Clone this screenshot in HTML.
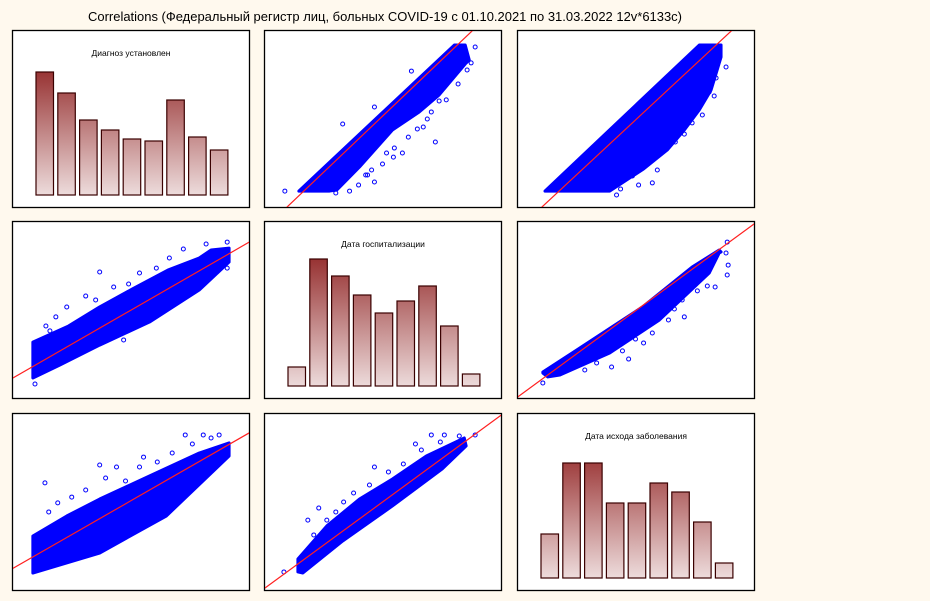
<!DOCTYPE html>
<html><head><meta charset="utf-8">
<style>
html,body{margin:0;padding:0;background:#fff9ee;}
svg{display:block;font-family:"Liberation Sans",sans-serif;}
</style></head>
<body>
<svg id="chart" width="930" height="601" viewBox="0 0 930 601" xmlns="http://www.w3.org/2000/svg">
<defs>
<linearGradient id="g1" gradientUnits="userSpaceOnUse" x1="0" y1="72" x2="0" y2="195"><stop offset="0" stop-color="#983434"/><stop offset="1" stop-color="#eddcdc"/></linearGradient>
<linearGradient id="g5" gradientUnits="userSpaceOnUse" x1="0" y1="260" x2="0" y2="387"><stop offset="0" stop-color="#983434"/><stop offset="1" stop-color="#eddcdc"/></linearGradient>
<linearGradient id="g9" gradientUnits="userSpaceOnUse" x1="0" y1="463" x2="0" y2="578"><stop offset="0" stop-color="#a04040"/><stop offset="1" stop-color="#eddcdc"/></linearGradient>
</defs>
<text x="385" y="21" font-size="13" text-anchor="middle" textLength="594" lengthAdjust="spacingAndGlyphs" fill="#000">Correlations (Федеральный регистр лиц, больных COVID-19 с 01.10.2021 по 31.03.2022 12v*6133c)</text>
</svg>
<script>
// Histogram data (counts, relative)
const hist1Values = [123,102,75,65,56,54,95,58,45];
const hist2Values = [19,127,110,91,73,85,100,60,12];
const hist3Values = [44,115,115,75,75,95,86,56,15];
const histTitles = ["Диагноз установлен","Дата госпитализации","Дата исхода заболевания"];

// Scatter panels: band outline (x%, y%), regression line (intercept, slope), outliers
const s2BandX = [14.7,80.3,84.9,86.6,84.9,73.9,65.5,54.2,40.3,30.7,27.7];
const s2BandY = [9.0,91.5,91.5,83.1,80.8,63.3,53.7,43.5,22.6,9.6,9.0];
const s2Line = [-12.4,1.274];
const s2OutX = [8.8,72.3,58.4,73.9,78.2,89.1,87.4,46.6,43.7,33.2,62.2,46.6,51.7,70.6,60.9,36.1,39.9,42.9,50.0,55.0,64.7,68.9,76.9,81.9,85.7,30.3,26.9,54.6,45.4,67.2];
const s2OutY = [9.0,36.7,30.5,59.9,72.9,90.4,81.4,14.1,18.1,46.9,76.8,56.5,30.5,53.7,39.5,9.0,12.4,18.1,24.3,33.3,44.1,49.7,60.5,69.5,77.4,7.9,12.4,28.2,20.9,45.2];

const s3BandX = [11.8,76.9,86.1,86.1,81.9,76.9,70.6,63.4,53.4,39.1,11.8];
const s3BandY = [9.0,91.5,91.5,84.7,66.1,54.8,43.5,32.2,21.5,9.0,9.0];
const s3Line = [-13.1,1.245];
const s3OutX = [57.1,66.8,52.5,75.6,84.0,84.9,84.5,45.4,39.5,66.4,60.1,81.1,43.7,48.7,55.0,62.2,70.6,78.2,83.2,88.2,42.0,51.3,59.2,73.9];
const s3OutY = [13.6,36.7,30.5,55.4,72.9,90.4,80.8,18.6,13.6,43.5,39.5,65.0,10.2,17.5,24.3,32.8,41.2,52.0,62.7,79.1,6.8,12.4,20.9,47.5];

const s4BandX = [8.8,23.9,36.9,50.8,65.8,79.0,84.0,91.6,91.6,79.0,58.0,37.0,20.2,8.8];
const s4BandY = [31.6,40.7,51.4,61.6,72.3,79.1,83.6,84.7,76.8,61.0,42.9,29.9,18.6,11.3];
const s4Line = [11.0,0.77];
const s4OutX = [9.7,37.0,31.1,47.1,39.5,81.9,90.8,90.8,77.3,18.5,16.0,60.9,57.1,28.2,23.1,42.9,53.8,66.4,72.3,14.3,35.3,49.2];
const s4OutY = [7.9,71.2,57.6,32.8,32.8,87.0,88.1,73.4,61.6,45.8,37.9,73.4,46.3,24.9,51.4,62.7,70.6,79.1,84.2,40.7,55.4,64.4];

const s6BandX = [10.9,25.2,52.9,73.9,85.3,86.1,85.3,81.1,60.1,39.1,18.1,13.0,10.9];
const s6BandY = [14.7,27.1,51.4,74.0,83.6,82.5,81.9,70.6,44.1,25.4,13.0,11.9,14.1];
const s6Line = [0.3,0.98];
const s6OutX = [10.9,39.9,47.1,70.6,83.6,88.7,89.1,88.2,88.7,80.3,69.7,50.0,33.6,44.5,57.1,63.9,76.1,28.6,53.4,66.4];
const s6OutY = [8.5,17.5,22.0,45.8,62.7,69.5,75.1,81.9,88.1,63.3,55.4,33.3,19.8,26.6,36.7,44.1,60.5,15.8,31.1,50.3];

const s7BandX = [8.8,23.1,37.0,58.0,79.0,91.6,91.6,65.1,37.0,8.8];
const s7BandY = [30.5,41.8,51.4,64.4,77.4,83.1,75.7,41.8,20.9,9.6];
const s7Line = [11.9,0.768];
const s7OutX = [13.9,37.0,44.1,55.5,73.1,80.7,87.4,31.1,19.3,53.8,39.5,67.6,25.2,47.9,61.3,76.1,84.0,15.5];
const s7OutY = [60.5,70.6,69.5,75.1,87.6,87.6,87.6,56.5,49.2,69.5,63.3,77.4,52.5,61.6,72.3,82.5,85.9,44.1];

const s8BandX = [14.3,26.5,40.3,54.2,68.5,84.5,85.3,75.2,54.2,33.2,16.4,14.3];
const s8BandY = [17.5,36.2,51.4,62.7,75.7,85.9,81.4,68.4,47.5,27.7,9.6,10.2];
const s8Line = [0.7,0.98];
const s8OutX = [8.4,18.5,23.1,46.6,63.9,70.6,76.1,82.4,89.1,33.6,52.5,26.5,37.8,44.5,58.8,66.4,74.4,21.0,30.3];
const s8OutY = [10.2,39.5,46.3,69.5,82.5,87.6,87.6,87.0,87.6,49.7,66.7,39.5,54.8,59.3,71.2,79.1,83.6,31.1,44.1];

const NS = "http://www.w3.org/2000/svg";
const svg = document.getElementById("chart");
const colX = [12,264,517], rowY = [30,221,413], PW = 237, PH = 177;

function mk(tag, attrs, parent){
  const e = document.createElementNS(NS, tag);
  for (const k in attrs) e.setAttribute(k, attrs[k]);
  (parent||svg).appendChild(e);
  return e;
}

function panel(r,c,name){
  const g = mk("g",{});
  
  
  const rect = mk("rect",{x:colX[c]+0.5,y:rowY[r]+0.5,width:PW,height:PH,fill:"#fff",stroke:"#000","stroke-width":1.3},g);
  
  
  return g;
}

function drawHist(r,c,vals,title,grad,name){
  const g = panel(r,c,name);
  const X = colX[c], Y = rowY[r];
  const bottom = Y + 165, firstX = X + 24, pitch = 21.8, bw = 17.5;
  const yScale = v => bottom - v;
  const xScale = i => firstX + i*pitch;
  const t = mk("text",{x:X+119,y:Y+26,"font-size":8.5,"text-anchor":"middle",fill:"#000"},g);
  t.textContent = title;
  
  
  vals.forEach((v,i)=>{
    const b = mk("rect",{x:xScale(i),y:yScale(v),width:bw,height:bottom-yScale(v),fill:"url(#"+grad+")",stroke:"#3a0000","stroke-width":1.2},g);
    
    
  });
}

function drawScatter(r,c,bx,by,line,ox,oy,name){
  const g = panel(r,c,name);
  const X = colX[c], Y = rowY[r];
  const xs = v => X + v*PW/100;
  const ys = v => Y + PH - v*PH/100;
  const clipId = "clip"+r+c;
  const cp = mk("clipPath",{id:clipId},g);
  mk("rect",{x:X+1,y:Y+1,width:PW-1,height:PH-1},cp);
  const inner = mk("g",{"clip-path":"url(#"+clipId+")"},g);
  const pts = bx.map((v,i)=>xs(v)+","+ys(by[i])).join(" ");
  const band = mk("polygon",{points:pts,fill:"#0000ff",stroke:"#0000ff","stroke-width":3,"stroke-linejoin":"round"},inner);
  
  
  ox.forEach((v,i)=>{
    const p = mk("circle",{cx:xs(v),cy:ys(oy[i]),r:2,fill:"none",stroke:"#0000ff","stroke-width":1},inner);
    
    
  });
  const l = mk("line",{x1:xs(-5),y1:ys(line[0]+line[1]*-5),x2:xs(105),y2:ys(line[0]+line[1]*105),stroke:"#ff2020","stroke-width":1.2},inner);
  
  
}

drawHist(0,0,hist1Values,histTitles[0],"g1","histogram-diagnosis");
drawScatter(0,1,s2BandX,s2BandY,s2Line,s2OutX,s2OutY,"scatter-1-2");
drawScatter(0,2,s3BandX,s3BandY,s3Line,s3OutX,s3OutY,"scatter-1-3");
drawScatter(1,0,s4BandX,s4BandY,s4Line,s4OutX,s4OutY,"scatter-2-1");
drawHist(1,1,hist2Values,histTitles[1],"g5","histogram-hospitalization");
drawScatter(1,2,s6BandX,s6BandY,s6Line,s6OutX,s6OutY,"scatter-2-3");
drawScatter(2,0,s7BandX,s7BandY,s7Line,s7OutX,s7OutY,"scatter-3-1");
drawScatter(2,1,s8BandX,s8BandY,s8Line,s8OutX,s8OutY,"scatter-3-2");
drawHist(2,2,hist3Values,histTitles[2],"g9","histogram-outcome");
</script>
</body></html>
